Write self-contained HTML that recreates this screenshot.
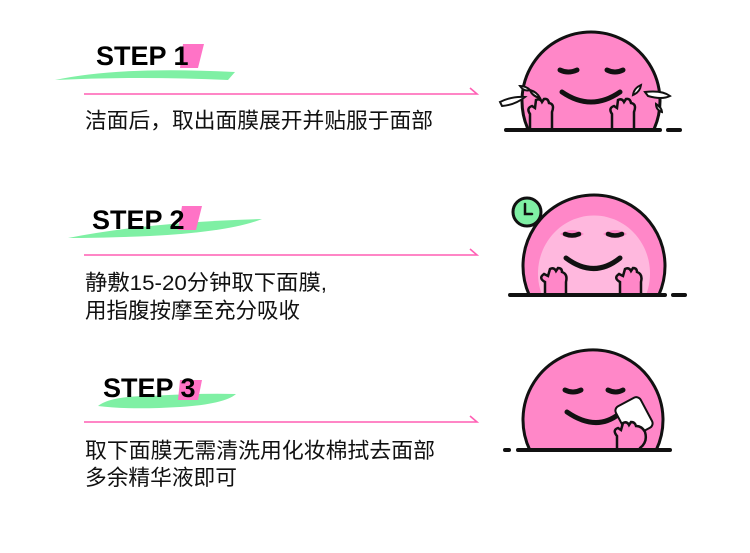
<!DOCTYPE html>
<html><head><meta charset="utf-8"><style>
body{margin:0;background:#fff;width:750px;height:553px;overflow:hidden}
svg{display:block}
.t{font-family:"Liberation Sans","Noto Sans CJK SC",sans-serif;font-size:21.5px;fill:#111}
.s{font-family:"Liberation Sans","DejaVu Sans",sans-serif;font-size:27px;font-weight:bold;fill:#000}
</style></head><body>
<svg width="750" height="553" viewBox="0 0 750 553" xmlns="http://www.w3.org/2000/svg">
<!-- STEP 1 -->
<path d="M55 80 Q120 66 235 72 L228 80 Q140 76 55 80Z" fill="#7ff0a4"/>
<path d="M183 44 L204 44 L198 68 L180 68Z" fill="#ff73c6"/>
<text class="s" x="96" y="65">STEP 1</text>
<path d="M84 94 H477 L470 88" stroke="#ff5fb4" stroke-width="1.6" fill="none"/>
<text class="t" x="85" y="128" textLength="348" lengthAdjust="spacingAndGlyphs">洁面后，取出面膜展开并贴服于面部</text>
<!-- STEP 2 -->
<path d="M68 238 Q150 222 262 219 Q230 232 150 236 Q100 238 68 238Z" fill="#7ff0a4"/>
<path d="M182 206 L202 206 L196 230 L178 230Z" fill="#ff73c6"/>
<text class="s" x="92" y="229">STEP 2</text>
<path d="M84 255 H477 L470 249" stroke="#ff5fb4" stroke-width="1.6" fill="none"/>
<text class="t" x="85" y="290" textLength="242" lengthAdjust="spacingAndGlyphs">静敷15-20分钟取下面膜,</text>
<text class="t" x="85" y="318" textLength="215" lengthAdjust="spacingAndGlyphs">用指腹按摩至充分吸收</text>
<!-- STEP 3 -->
<path d="M98 406 Q110 396 150 396 Q200 393 236 394 Q225 404 180 407 Q130 410 98 406Z" fill="#7ff0a4"/>
<path d="M180 380 L202 380 L198 400 L178 400Z" fill="#ff73c6"/>
<text class="s" x="103" y="397">STEP 3</text>
<path d="M84 422 H477 L470 416" stroke="#ff5fb4" stroke-width="1.6" fill="none"/>
<text class="t" x="85" y="458" textLength="350" lengthAdjust="spacingAndGlyphs">取下面膜无需清洗用化妆棉拭去面部</text>
<text class="t" x="85" y="485" textLength="152" lengthAdjust="spacingAndGlyphs">多余精华液即可</text>

<g stroke="#111" stroke-linecap="round" fill="none">
<!-- face 1 -->
<path d="M528.4 130 A69 69 0 1 1 653.6 130Z" fill="#ff87c8" stroke-width="3"/>
<path d="M560 70 Q568 74 577 70 M607 70 Q615 74 623 70" stroke-width="5"/>
<path d="M562 92 Q591 112 620 92" stroke-width="5"/>
<path d="M530 128 L530 114 Q526 108 532 106 L535 108 L536 100 Q540 98 542 102 L544 99 Q548 98 549 103 Q555 104 552 112 L552 128" fill="#ff87c8" stroke-width="2.5"/>
<path d="M612 128 L612 114 Q608 108 614 106 L617 108 L618 100 Q622 98 624 102 L626 99 Q630 98 631 103 Q637 104 634 112 L634 128" fill="#ff87c8" stroke-width="2.5"/>
<path d="M500 102 Q512 96 525 97 Q515 105 502 106Z M520 86 Q526 86 530 90 Q524 92 520 86Z M530 90 Q537 92 540 98 Q532 96 530 90Z" fill="#fff" stroke-width="2"/>
<path d="M645 92 Q662 90 670 96 Q662 100 648 96Z M633 95 Q634 88 641 85 Q640 92 633 95Z M656 104 Q662 108 662 112 Q656 110 656 104Z" fill="#fff" stroke-width="2"/>
<path d="M506 130 H660 M668 130 H680" stroke-width="4"/>
<!-- face 2 -->
<path d="M529.2 295 A71 71 0 1 1 658.8 295Z" fill="#ff87c8" stroke-width="3"/>
<path d="M542 295 A56 58 0 1 1 646 295Z" fill="#ffb8de" stroke="none"/>
<path d="M560 234 Q572 226 584 234 Q572 242 560 234Z M603 234 Q615 226 627 234 Q615 242 603 234Z" fill="#ff87c8" stroke="none"/>
<path d="M565 234 Q572 237 579 234 M608 234 Q615 237 622 234" stroke-width="4.5"/>
<path d="M566 258 Q594 279 620 258" stroke-width="5"/>
<path d="M545 293 L545 282 Q538 278 544 274 L548 276 L550 269 Q554 267 556 271 L558 268 Q562 268 562 272 Q568 274 566 282 L566 293" fill="#ff87c8" stroke-width="2.5"/>
<path d="M620 293 L620 282 Q613 278 619 274 L623 276 L625 269 Q629 267 631 271 L633 268 Q637 268 637 272 Q643 274 641 282 L641 293" fill="#ff87c8" stroke-width="2.5"/>
<circle cx="527" cy="212" r="14" fill="#7ff0a4" stroke-width="3"/>
<path d="M525 204 V214 H532" stroke-width="2.5"/>
<path d="M510 295 H665 M673 295 H685" stroke-width="4"/>
<!-- face 3 -->
<path d="M529.8 450 A70 70 0 1 1 656.2 450Z" fill="#ff87c8" stroke-width="3"/>
<path d="M565 390 Q573 394 581 390 M608 390 Q616 394 623 390" stroke-width="5"/>
<path d="M567 412 Q596 432 619 414" stroke-width="5"/>
<rect x="620" y="400" width="28" height="34" rx="5" transform="rotate(-28 634 417)" fill="#fff" stroke-width="2"/>
<path d="M617 448 L617 436 Q612 430 618 428 L621 430 L623 423 Q627 421 629 425 L631 422 Q635 422 636 426 Q642 426 645 432 Q648 442 640 448" fill="#ff87c8" stroke-width="2.5"/>
<path d="M518 450 H670 M505 450 H509" stroke-width="4"/>
</g>
</svg>
</body></html>
